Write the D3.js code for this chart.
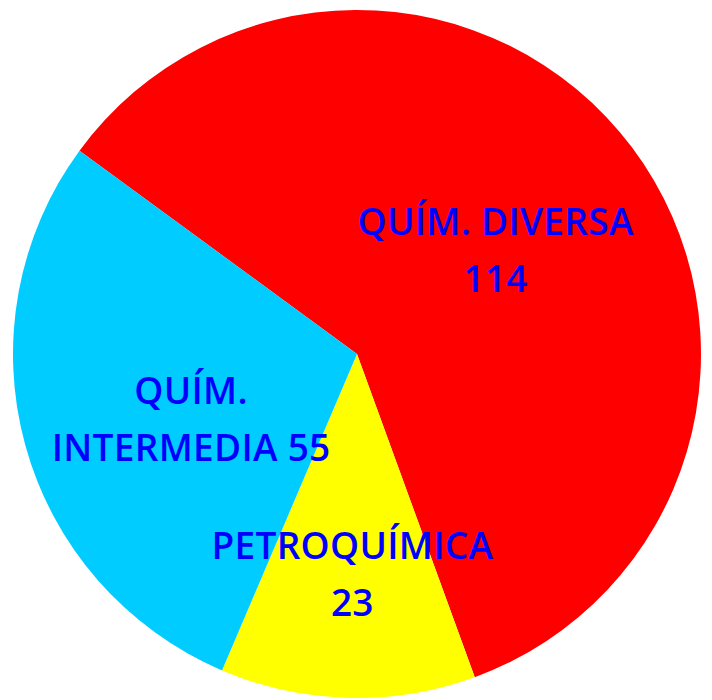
<!DOCTYPE html>
<html>
<head>
<meta charset="utf-8">
<script src="https://cdn.jsdelivr.net/npm/d3@7"></script>
<style>
  html, body { margin: 0; padding: 0; background: #fff; }
  svg { display: block; }
  .label { font-family: "Open Sans", sans-serif; font-size: 37px; font-weight: 600; letter-spacing: 0.3px; fill: #0000ff; }
</style>
</head>
<body>
<div id="container"></div>
<script>
const categories = ["QUÍM. DIVERSA", "PETROQUÍMICA", "QUÍM. INTERMEDIA"];
const values = [114, 23, 55];
const colors = ["#ff0000", "#ffff00", "#00ccff"];

const width = 712;
const height = 700;
const cx = 357;
const cy = 354;
const radius = 344;
const startAngle = -53.77 * Math.PI / 180;
const wrapWidth = 310;
const lineHeight = 57;

// label tweaks, per slice (pixels)
const labelNudge = { "QUÍM. DIVERSA": [1, 0], "PETROQUÍMICA": [0, 49], "QUÍM. INTERMEDIA": [0, 20] };

const data = categories.map((c, i) => ({ name: c, value: values[i], color: colors[i] }));

const svg = d3.select("#container")
  .append("svg")
  .attr("width", width)
  .attr("height", height);

const g = svg.append("g").attr("transform", `translate(${cx}, ${cy})`);

const pie = d3.pie()
  .sort(null)
  .value(d => d.value)
  .startAngle(startAngle)
  .endAngle(startAngle + 2 * Math.PI);

const arc = d3.arc().innerRadius(0).outerRadius(radius);
const labelArc = d3.arc().innerRadius(radius * 0.5).outerRadius(radius * 0.5);

const arcs = pie(data);

g.selectAll("path")
  .data(arcs)
  .enter()
  .append("path")
  .attr("d", arc)
  .attr("fill", d => d.data.color);

// greedy word wrap
const measure = g.append("text").attr("class", "label").attr("visibility", "hidden");
function wrap(str) {
  const words = str.split(" ");
  const lines = [];
  let cur = "";
  words.forEach(w => {
    const test = cur ? cur + " " + w : w;
    measure.text(test);
    if (cur && measure.node().getComputedTextLength() > wrapWidth) {
      lines.push(cur);
      cur = w;
    } else {
      cur = test;
    }
  });
  if (cur) lines.push(cur);
  return lines;
}

const labels = g.selectAll("text.slice-label")
  .data(arcs)
  .enter()
  .append("text")
  .attr("class", "label slice-label")
  .attr("text-anchor", "middle")
  .attr("transform", d => {
    const [x, y] = labelArc.centroid(d);
    const n = labelNudge[d.data.name] || [0, 0];
    return `translate(${x + n[0]}, ${y + n[1]})`;
  });

labels.each(function (d) {
  const lines = wrap(d.data.name + " " + d.data.value);
  const t = d3.select(this);
  const offset = -(lines.length - 1) * lineHeight / 2 + 13;
  lines.forEach((l, i) => {
    t.append("tspan")
      .attr("x", 0)
      .attr("y", offset + i * lineHeight)
      .text(l);
  });
});

measure.remove();
</script>
</body>
</html>
